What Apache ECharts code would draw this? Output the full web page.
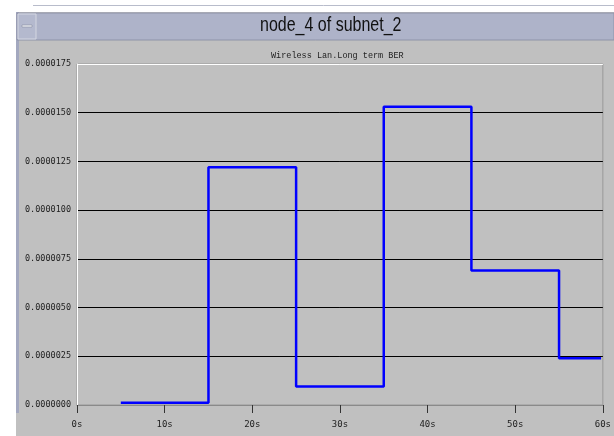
<!DOCTYPE html>
<html>
<head>
<meta charset="utf-8">
<style>
  html, body { margin: 0; padding: 0; background: #ffffff; }
  #chart { width: 614px; height: 436px; }
</style>
<script src="https://cdn.jsdelivr.net/npm/echarts@6/dist/echarts.min.js"></script>
</head>
<body>
<div id="chart"></div>
<script>
// Wireless LAN long term bit error rate, sampled per 10 s window
const windowTitle = 'node_4 of subnet_2';
const statName = 'Wireless Lan.Long term BER';
const timeSeconds = [5, 15, 25, 35, 45, 55, 59.8];
const berValues = [0.00000012, 0.0000122, 0.00000095, 0.0000153, 0.0000069, 0.0000024, 0.0000024];
const yTicks = [0, 0.0000025, 0.000005, 0.0000075, 0.00001, 0.0000125, 0.000015, 0.0000175];
const xTicks = [0, 10, 20, 30, 40, 50, 60];

const chart = echarts.init(document.getElementById('chart'), null, { renderer: 'canvas' });

const monoFont = '"DejaVu Sans Mono", "Liberation Mono", monospace';

// one colour per horizontal rule: bottom hidden under the axis, top drawn as the bevel highlight
const ruleColors = yTicks.map((v, i) => i === 0 ? '#808080' : (i === yTicks.length - 1 ? '#ffffff' : '#000000'));

chart.setOption({
  animation: false,
  backgroundColor: '#ffffff',
  graphic: [
    // window body
    { type: 'rect', z: -10, silent: true, shape: { x: 16, y: 12, width: 598, height: 424 },
      style: { fill: '#c0c0c0' } },
    // left frame edge
    { type: 'rect', z: -9, silent: true, shape: { x: 16, y: 12, width: 3, height: 401 },
      style: { fill: '#a3a8bf' } },
    // top frame line
    { type: 'line', z: -9, silent: true, shape: { x1: 33, y1: 5.5, x2: 614, y2: 5.5 },
      style: { stroke: '#b8bccb', lineWidth: 1 } },
    // title bar
    { type: 'rect', z: -8, silent: true, shape: { x: 17, y: 13, width: 597, height: 27 },
      style: { fill: '#aeb3c9', stroke: '#8e93a8', lineWidth: 1 } },
    // menu button
    { type: 'rect', z: -7, silent: true, shape: { x: 18, y: 14, width: 18, height: 25 },
      style: { fill: '#b4b9ce', stroke: '#d4d7e2', lineWidth: 1 } },
    { type: 'rect', z: -6, silent: true, shape: { x: 22, y: 25, width: 10, height: 2 },
      style: { fill: '#e8eaf0', stroke: '#7d8296', lineWidth: 0.5 } },
    // window caption, condensed horizontally
    { type: 'text', z: -5, silent: true, x: 260, y: 15, scaleX: 0.8, scaleY: 1,
      style: { text: windowTitle, font: '20px "Liberation Sans", sans-serif', fill: '#111111' } },
    { type: 'text', z: -5, silent: true, left: 271, top: 51,
      style: { text: statName, font: '8.5px "Liberation Mono", "DejaVu Sans Mono", monospace', fill: '#222222' } }
  ],
  grid: {
    left: 77, right: 11, top: 64, bottom: 31,
    show: true, backgroundColor: 'transparent', borderColor: '#989898', borderWidth: 1
  },
  xAxis: {
    type: 'value', min: 0, max: 60, interval: 10,
    axisLine: { show: true, onZero: false, lineStyle: { color: '#8a8a8a', width: 1 } },
    axisTick: { show: true, inside: false, length: 8, lineStyle: { color: '#333333', width: 1 } },
    axisLabel: { formatter: v => v + 's', color: '#222222', fontFamily: monoFont, fontSize: 9, margin: 15 },
    splitLine: { show: false }
  },
  yAxis: {
    type: 'value', min: 0, max: 0.0000175, interval: 0.0000025,
    axisLine: { show: true, onZero: false, lineStyle: { color: '#ffffff', width: 1 } },
    axisTick: { show: false },
    axisLabel: { formatter: v => v.toFixed(7), color: '#222222', fontFamily: monoFont, fontSize: 8.5, margin: 6 },
    splitLine: { show: true, lineStyle: { color: ruleColors, width: 1 } }
  },
  series: [{
    type: 'line',
    step: 'end',
    showSymbol: false,
    symbol: 'none',
    data: timeSeconds.map((t, i) => [t, berValues[i]]),
    lineStyle: { color: '#0000ff', width: 2.5 },
    z: 5
  }]
});
</script>
</body>
</html>
